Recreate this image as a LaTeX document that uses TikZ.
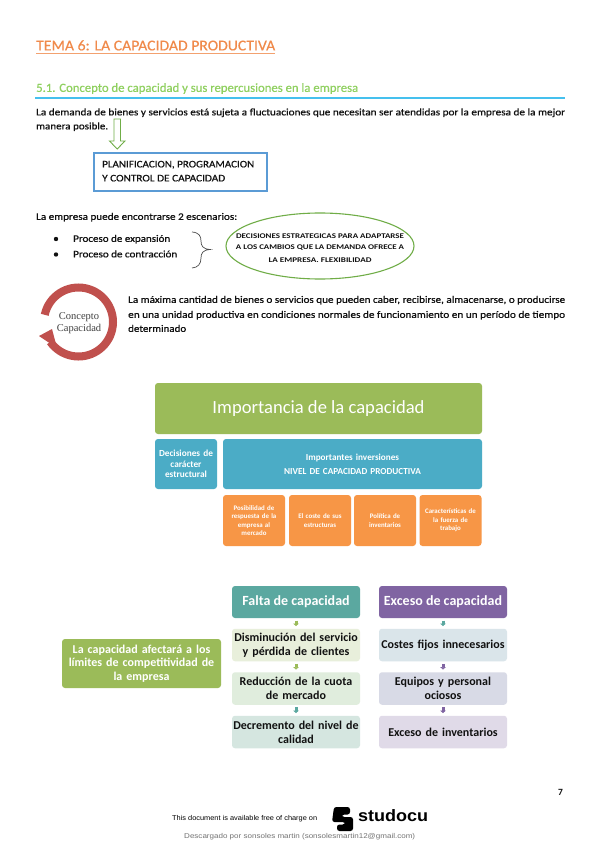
\documentclass[tikz,border=0pt]{standalone}
\usepackage{graphicx}
\usepackage{fontspec}
\setmainfont{Carlito}
\newfontfamily\serifcap{Liberation Serif}
\newfontfamily\arialf{Liberation Sans}
\usetikzlibrary{arrows.meta,shapes.geometric}
\definecolor{tituloC}{HTML}{F08A4B}
\definecolor{secC}{HTML}{8FD05F}
\definecolor{ruleC}{HTML}{45C0EE}
\definecolor{boxB}{HTML}{5B9BD5}
\definecolor{greenE}{HTML}{70AD47}
\definecolor{ringC}{HTML}{C0504D}
\definecolor{oliveC}{HTML}{9BBB59}
\definecolor{aquaC}{HTML}{4BACC6}
\definecolor{orangeC}{HTML}{F79646}
\definecolor{tealC}{HTML}{5BA8A0}
\definecolor{purpC}{HTML}{8064A2}
\definecolor{ink}{HTML}{111111}
\newcommand{\hfit}[2]{\resizebox{#1pt}{\height}{#2}}
\newcommand{\semi}{\addfontfeature{FakeBold=0.6}}
\tikzset{
 x=1pt,y=-1pt,
 line/.style={inner sep=0pt,anchor=mid west,yshift=-1.5pt,text=ink,font=\fontsize{10}{12}\selectfont\semi},
 block/.style={rounded corners=3pt,inner sep=1pt,align=center,anchor=center,text=white},
 olive/.style={block,fill=oliveC},
 aqua/.style={block,fill=aquaC,font=\fontsize{9.3}{10.5}\selectfont\bfseries},
 orng/.style={block,fill=orangeC,minimum width=62pt,minimum height=51pt,text width=60pt,font=\fontsize{6.9}{8.4}\selectfont\bfseries},
 head/.style={block,minimum width=128pt,minimum height=32pt,font=\fontsize{14}{15}\selectfont\bfseries},
 item/.style={block,minimum width=128pt,minimum height=32.5pt,text width=126pt,text=ink,font=\fontsize{12}{14}\selectfont\bfseries},
 tiny/.style={-{Triangle[width=5.5pt,length=2.5pt]},line width=3pt,shorten <=2.5pt,shorten >=2.5pt},
 eltext/.style={inner sep=0pt,text=ink,font=\fontsize{7.2}{9}\selectfont\bfseries},
 captext/.style={inner sep=0pt,text=black!75,font=\fontsize{10.5}{12}\serifcap},
}
\begin{document}
\begin{tikzpicture}
\useasboundingbox (0,0) rectangle (599,848);
\fill[white] (0,0) rectangle (599,848);
% headings
\node[line,text=tituloC,font=\fontsize{15}{18}\selectfont\addfontfeature{FakeBold=0.3}] (titulo) at (36,46.5) {\hfit{239}{TEMA 6: LA CAPACIDAD PRODUCTIVA}};
\draw[tituloC!80,line width=1pt] (36,54) -- (275,54);
\node[line,text=secC,font=\fontsize{12.5}{15}\selectfont\addfontfeature{FakeBold=0.5}] (sec) at (36,88) {\hfit{322}{5.1. Concepto de capacidad y sus repercusiones en la empresa}};
\draw[ruleC,line width=1.7pt] (35,97.7) -- (565,97.7);
% first paragraph
\node[line] (p1a) at (36,111.5) {\hfit{529}{La demanda de bienes y servicios está sujeta a fluctuaciones que necesitan ser atendidas por la empresa de la mejor}};
\node[line] (p1b) at (36,125.5) {\hfit{72}{manera posible.}};
% hollow arrow
\draw[greenE,fill=white,line width=.9pt,line join=miter] (114,119) -- (120.5,119) -- (120.5,141) -- (125,141) -- (117.2,149) -- (109.5,141) -- (114,141) -- cycle;
% plan box
\node[draw=boxB,line width=1.2pt,fill=white,minimum width=173pt,minimum height=38pt,inner sep=0pt] (plan) at (180.5,172) {};
\node[line] (pl1) at (102,163.5) {\hfit{152}{PLANIFICACION, PROGRAMACION}};
\node[line] (pl2) at (102,177.5) {\hfit{123}{Y CONTROL DE CAPACIDAD}};
% scenarios
\node[line] (esc) at (36,216) {\hfit{201}{La empresa puede encontrarse 2 escenarios:}};
\fill[ink] (56,239) circle (2.2);
\fill[ink] (56,254.5) circle (2.2);
\node[line] (b1) at (73,238) {\hfit{97}{Proceso de expansión}};
\node[line] (b2) at (73,253.5) {\hfit{104}{Proceso de contracción}};
\draw[black!70,line width=.7pt] (192,232) .. controls (199,232.5) and (201,236) .. (201,241) .. controls (201,246) and (203,249) .. (210,249.5) .. controls (203,250) and (201,253) .. (201,258) .. controls (201,264) and (198,267.5) .. (192,268);
\node[ellipse,draw=greenE,line width=1.1pt,minimum width=188pt,minimum height=66pt,inner sep=0pt] (elip) at (320,246) {};
\node[eltext] (el1) at (320,236) {\hfit{168}{DECISIONES ESTRATEGICAS PARA ADAPTARSE}};
\node[eltext] (el2) at (320,248) {\hfit{168}{A LOS CAMBIOS QUE LA DEMANDA OFRECE A}};
\node[eltext] (el3) at (320,260) {\hfit{103}{LA EMPRESA. FLEXIBILIDAD}};
% ring
\draw[ringC,line width=8pt] (78.5,322) ++(192:34.5) arc[start angle=192,end angle=505,radius=34.5];
\fill[ringC] (39,336) -- (52,329) -- (57,348) -- cycle;
\node[captext] (cc1) at (79,317) {Concepto};
\node[captext] (cc2) at (79,329) {Capacidad};
\node[line] (d1) at (128,299) {\hfit{437}{La máxima cantidad de bienes o servicios que pueden caber, recibirse, almacenarse, o producirse}};
\node[line] (d2) at (128,314) {\hfit{437}{en una unidad productiva en condiciones normales de funcionamiento en un período de tiempo}};
\node[line] (d3) at (128,328) {\hfit{58}{determinado}};
% importance diagram
\node[olive,minimum width=327pt,minimum height=51pt,font=\fontsize{18.6}{22}\selectfont] (imp) at (318.5,408.5) {Importancia de la capacidad};
\node[aqua,minimum width=62pt,minimum height=50pt,text width=60pt] (dec) at (186,464) {Decisiones de\\carácter\\estructural};
\node[aqua,minimum width=259pt,minimum height=50pt,text width=250pt,font=\fontsize{9.2}{14}\selectfont\bfseries] (inv) at (352.5,464) {Importantes inversiones\\NIVEL DE CAPACIDAD PRODUCTIVA};
\node[orng] (o1) at (254,520.5) {Posibilidad de\\respuesta de la\\empresa al\\mercado};
\node[orng] (o2) at (320,520.5) {El coste de sus\\estructuras};
\node[orng] (o3) at (385,520.5) {Política de\\inventarios};
\node[orng] (o4) at (450.5,520.5) {Características de\\la fuerza de\\trabajo};
% capacity diagram
\node[olive,minimum width=159pt,minimum height=49pt,text width=156pt,font=\fontsize{12}{13.6}\selectfont\bfseries] (afec) at (141.5,663.5) {La capacidad afectará a los\\límites de competitividad de\\la empresa};
\node[head,fill=tealC] (falta) at (296,602) {Falta de capacidad};
\node[head,fill=purpC] (exc) at (443,602) {Exceso de capacidad};
\node[item,fill={rgb,255:red,232;green,239;blue,219}] (f1) at (296,645) {Disminución del servicio\\y pérdida de clientes};
\node[item,fill={rgb,255:red,224;green,237;blue,221}] (f2) at (296,688.5) {Reducción de la cuota\\de mercado};
\node[item,fill={rgb,255:red,213;green,230;blue,224}] (f3) at (296,732) {Decremento del nivel de\\calidad};
\node[item,fill={rgb,255:red,218;green,229;blue,234}] (e1) at (443,645) {Costes fijos innecesarios};
\node[item,fill={rgb,255:red,216;green,218;blue,230}] (e2) at (443,688.5) {Equipos y personal\\ociosos};
\node[item,fill={rgb,255:red,224;green,218;blue,232}] (e3) at (443,732) {Exceso de inventarios};
\draw[tiny,oliveC] (falta) -- (f1);
\draw[tiny,oliveC] (f1) -- (f2);
\draw[tiny,tealC] (f2) -- (f3);
\draw[tiny,tealC] (exc) -- (e1);
\draw[tiny,purpC] (e1) -- (e2);
\draw[tiny,purpC] (e2) -- (e3);
% footer
\node[inner sep=0pt,text=ink,font=\fontsize{9.5}{10}\selectfont\bfseries] (pag) at (560.5,792) {7};
\node[line,text=black,font=\fontsize{7}{8}\arialf] (free) at (172,817) {\hfit{145}{This document is available free of charge on}};
\fill[black,rounded corners=2.5pt] (334,807) -- (350,807) -- (350,814.5) -- (342,814.5) -- (342,817) -- (353,817) -- (353,831) -- (337,831) -- (337,824.5) -- (345,824.5) -- (345,822) -- (332,822) -- cycle;
\node[line,text=black,font=\fontsize{16.5}{18}\arialf\bfseries] (stu) at (358,817.5) {\hfit{70}{studocu}};
\node[line,text=black!55,font=\fontsize{7}{8}\arialf] (desc) at (184,835) {\hfit{231}{Descargado por sonsoles martin (sonsolesmartin12@gmail.com)}};
\end{tikzpicture}
\end{document}
